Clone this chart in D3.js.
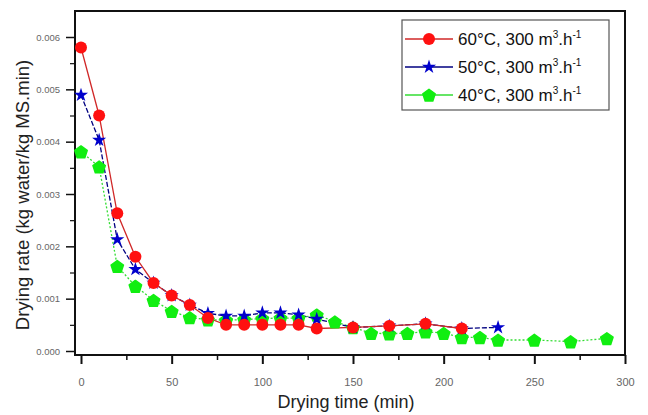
<!DOCTYPE html>
<html><head><meta charset="utf-8">
<script src="https://cdn.jsdelivr.net/npm/d3@7"></script>
<style>body{margin:0;background:#fff}svg{display:block;font-family:"Liberation Sans",Arial,sans-serif}</style>
</head><body><svg id="c" width="648" height="415"></svg>
<script>
const xTicks=[0,50,100,150,200,250,300];
const yTicks=[0,0.001,0.002,0.003,0.004,0.005,0.006];
const seriesNames=["60°C, 300 m","50°C, 300 m","40°C, 300 m"];
const t60=[0,10,20,30,40,50,60,70,80,90,100,110,120,130,150,170,190,210];
const r60=[0.0058,0.0045,0.00263,0.0018,0.0013,0.00106,0.00088,0.00063,0.0005,0.0005,0.0005,0.0005,0.0005,0.00043,0.00045,0.00048,0.00052,0.00043];
const t50=[0,10,20,30,40,50,60,70,80,90,100,110,120,130,150,170,190,210,230];
const r50=[0.00489,0.00403,0.00213,0.00156,0.0013,0.00106,0.00088,0.00072,0.00067,0.00067,0.00073,0.00073,0.00069,0.00061,0.00045,0.00048,0.00052,0.00043,0.00045];
const t40=[0,10,20,30,40,50,60,70,80,90,100,110,120,130,140,150,160,170,180,190,200,210,220,230,250,270,290];
const r40=[0.00381,0.00352,0.00162,0.00124,0.00097,0.00076,0.00064,0.0006,0.00059,0.0006,0.00062,0.00063,0.00063,0.00069,0.00056,0.00045,0.00034,0.00033,0.00034,0.00037,0.00034,0.00026,0.00026,0.00021,0.00021,0.00018,0.00024];

const svg=d3.select("#c");
const L=75,R=625,T=11,B=355;
const x=d3.scaleLinear().domain([0,300]).range([81,625]);
const y=d3.scaleLinear().domain([0,0.006]).range([351,37]);

svg.append("rect").attr("x",L).attr("y",T).attr("width",R-L).attr("height",B-T)
  .attr("fill","none").attr("stroke","#111").attr("stroke-width",2);

const xa=svg.append("g").attr("transform",`translate(0,${B})`)
  .call(d3.axisBottom(x).tickValues(xTicks).tickSize(9).tickPadding(14).tickFormat(d3.format("d")));
xa.select(".domain").remove();
xa.selectAll("line").attr("stroke","#111").attr("stroke-width",2);
xa.selectAll("text").attr("font-size",11).attr("fill","#666").attr("font-family","Liberation Sans, Arial");
const xm=svg.append("g").attr("transform",`translate(0,${B})`)
  .call(d3.axisBottom(x).tickValues(d3.range(25,300,50)).tickSize(5).tickFormat(""));
xm.select(".domain").remove();
xm.selectAll("line").attr("stroke","#111").attr("stroke-width",1.5);

const ya=svg.append("g").attr("transform",`translate(${L},0)`)
  .call(d3.axisLeft(y).tickValues(yTicks).tickSize(9).tickPadding(6).tickFormat(d3.format(".3f")));
ya.select(".domain").remove();
ya.selectAll("line").attr("stroke","#111").attr("stroke-width",1.5);
ya.selectAll("text").attr("font-size",9.5).attr("fill","#666").attr("font-family","Liberation Sans, Arial");
const ym=svg.append("g").attr("transform",`translate(${L},0)`)
  .call(d3.axisLeft(y).tickValues(d3.range(0.0005,0.0065,0.001)).tickSize(5).tickFormat(""));
ym.select(".domain").remove();
ym.selectAll("line").attr("stroke","#111").attr("stroke-width",1.2);

svg.append("text").attr("x",346).attr("y",408).attr("text-anchor","middle")
  .attr("font-size",18).attr("fill","#222").text("Drying time (min)");
svg.append("text").attr("transform","translate(29,195) rotate(-90)").attr("text-anchor","middle")
  .attr("font-size",18.5).attr("fill","#222").text("Drying rate (kg water/kg MS.min)");

const line=d3.line().x(d=>x(d[0])).y(d=>y(d[1]));
const star=d3.symbol().type(d3.symbolStar).size(62);
const pent=(r)=>{const p=[];for(let i=0;i<5;i++){const a=-Math.PI/2+i*2*Math.PI/5;p.push([r*Math.cos(a),r*Math.sin(a)]);}return "M"+p.join("L")+"Z";};

const series=[
 {t:t40,v:r40,lc:"#33dd33",dash:"2,2",mc:"#11ee11",shape:"pent"},
 {t:t50,v:r50,lc:"#000080",dash:"5,2",mc:"#0000cc",shape:"star"},
 {t:t60,v:r60,lc:"#d02828",dash:null,mc:"#ff1010",shape:"circle"}
];
function marker(g,s,cx,cy){
  if(s.shape==="circle") g.append("circle").attr("cx",cx).attr("cy",cy).attr("r",6).attr("fill",s.mc);
  else if(s.shape==="star") g.append("path").attr("d",star()).attr("transform",`translate(${cx},${cy})`).attr("fill",s.mc);
  else g.append("path").attr("d",pent(6.5)).attr("transform",`translate(${cx},${cy+0.8})`).attr("fill",s.mc).attr("stroke",s.mc).attr("stroke-width",1.5).attr("stroke-linejoin","round");
}
series.forEach(s=>{
  const d=s.t.map((t,i)=>[t,s.v[i]]);
  svg.append("path").datum(d).attr("d",line).attr("fill","none").attr("stroke",s.lc)
    .attr("stroke-width",1.3).attr("stroke-dasharray",s.dash);
});
series.forEach(s=>{
  const g=svg.append("g");
  s.t.forEach((t,i)=>marker(g,s,x(t),y(s.v[i])));
});

svg.append("rect").attr("x",402).attr("y",20).attr("width",207).attr("height",90)
  .attr("fill","#fff").attr("stroke","#555").attr("stroke-width",1.2);
[2,1,0].forEach((si,k)=>{
  const s=series[si]; const cy=39+k*28;
  svg.append("line").attr("x1",405).attr("x2",453).attr("y1",cy).attr("y2",cy)
    .attr("stroke",s.lc).attr("stroke-width",1.3);
  marker(svg,s,429,cy);
  const tx=svg.append("text").attr("x",458).attr("y",cy+6).attr("font-size",17).attr("fill","#111");
  tx.append("tspan").text(seriesNames[k]);
  tx.append("tspan").attr("font-size",10).attr("dy",-7).text("3");
  tx.append("tspan").attr("dy",7).text(".h");
  tx.append("tspan").attr("font-size",10).attr("dy",-7).text("-1");
});
</script></body></html>
